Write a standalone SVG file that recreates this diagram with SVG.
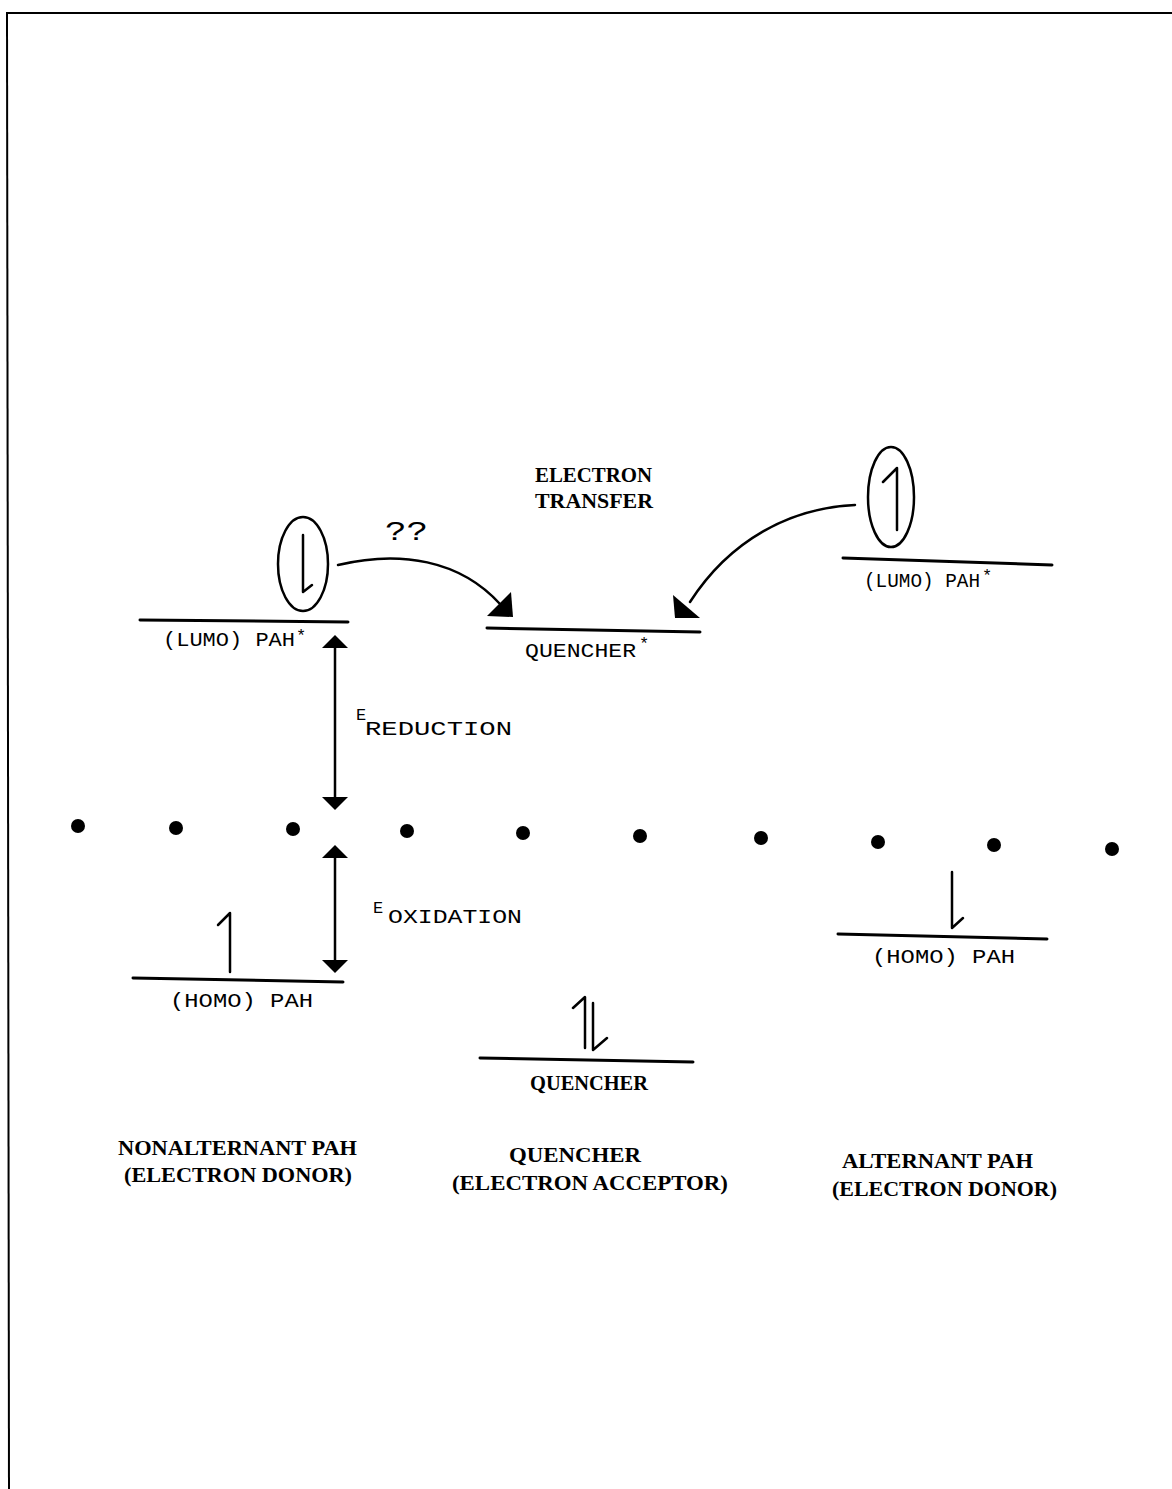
<svg xmlns="http://www.w3.org/2000/svg" width="1172" height="1489" viewBox="0 0 1172 1489">
<style>
.lvl{stroke:#000;stroke-width:3;fill:none;stroke-linecap:round}
.ln{stroke:#000;stroke-width:2.5;fill:none;stroke-linecap:round;stroke-linejoin:round}
.spin{stroke:#000;stroke-width:2.5;fill:none;stroke-linecap:round;stroke-linejoin:round}
.t{font-family:"Liberation Mono","DejaVu Sans Mono",monospace;font-size:20px;fill:#000}
.b{font-family:"Liberation Serif","DejaVu Serif",serif;font-size:21px;font-weight:bold;fill:#000}
.sup{font-family:"Liberation Mono","DejaVu Sans Mono",monospace;font-size:17px;fill:#000}
.dot{fill:#000}
</style>
<rect width="1172" height="1489" fill="#fff"/>
<g id="frame">
<line x1="6" y1="13" x2="1172" y2="13" stroke="#000" stroke-width="2"/>
<line x1="7" y1="13" x2="9" y2="1489" stroke="#000" stroke-width="2"/>
</g>
<g id="dots">
<circle class="dot" cx="78" cy="826" r="7"/>
<circle class="dot" cx="176" cy="828" r="7"/>
<circle class="dot" cx="293" cy="829" r="7"/>
<circle class="dot" cx="407" cy="831" r="7"/>
<circle class="dot" cx="523" cy="833" r="7"/>
<circle class="dot" cx="640" cy="836" r="7"/>
<circle class="dot" cx="761" cy="838" r="7"/>
<circle class="dot" cx="878" cy="842" r="7"/>
<circle class="dot" cx="994" cy="845" r="7"/>
<circle class="dot" cx="1112" cy="849" r="7"/>
</g>
<g id="left-lumo">
<line class="lvl" x1="140" y1="620" x2="348" y2="622"/>
<ellipse cx="303" cy="564" rx="25" ry="47" fill="none" stroke="#000" stroke-width="2.5"/>
<polyline class="spin" points="303,535 303,592 312,585"/>
<text class="t" x="163" y="646" textLength="132" lengthAdjust="spacingAndGlyphs">(LUMO) PAH</text>
<text class="sup" x="296" y="641">*</text>
</g>
<g id="quencher-excited">
<line class="lvl" x1="487" y1="628" x2="700" y2="632"/>
<text class="t" x="525" y="657" textLength="111" lengthAdjust="spacingAndGlyphs">QUENCHER</text>
<text class="sup" x="639" y="649">*</text>
</g>
<g id="right-lumo">
<line class="lvl" x1="843" y1="558" x2="1052" y2="565"/>
<ellipse cx="891" cy="497" rx="23" ry="50" fill="none" stroke="#000" stroke-width="2.5"/>
<polyline class="spin" points="883,482 897,468 897,530"/>
<text class="t" x="864" y="587" textLength="116" lengthAdjust="spacingAndGlyphs">(LUMO) PAH</text>
<text class="sup" x="982" y="581">*</text>
</g>
<g id="electron-transfer">
<text class="b" x="535" y="482" textLength="117" lengthAdjust="spacingAndGlyphs">ELECTRON</text>
<text class="b" x="535" y="508" textLength="118" lengthAdjust="spacingAndGlyphs">TRANSFER</text>
</g>
<g id="left-homo">
<line class="lvl" x1="133" y1="978" x2="343" y2="982"/>
<polyline class="spin" points="218,925 230,913 230,972"/>
<text class="t" x="170" y="1007" textLength="143" lengthAdjust="spacingAndGlyphs">(HOMO) PAH</text>
</g>
<g id="quencher-ground">
<line class="lvl" x1="480" y1="1058" x2="693" y2="1062"/>
<polyline class="spin" points="573,1008 585,997 585,1048"/>
<polyline class="spin" points="593,1003 593,1050 607,1038"/>
<text class="b" x="530" y="1090" textLength="118" lengthAdjust="spacingAndGlyphs">QUENCHER</text>
</g>
<g id="right-homo">
<line class="lvl" x1="838" y1="934" x2="1047" y2="939"/>
<polyline class="spin" points="952,872 952,928 963,918"/>
<text class="t" x="872" y="963" textLength="143" lengthAdjust="spacingAndGlyphs">(HOMO) PAH</text>
</g>
<g id="energy-labels">
<text class="sup" x="356" y="720">E</text>
<text class="t" x="365" y="735" textLength="147" lengthAdjust="spacingAndGlyphs">REDUCTION</text>
<text class="sup" x="373" y="913">E</text>
<text class="t" x="388" y="923" textLength="134" lengthAdjust="spacingAndGlyphs">OXIDATION</text>
<text class="t" x="385" y="540" style="font-size:28px" textLength="43" lengthAdjust="spacingAndGlyphs">??</text>
</g>
<g id="captions">
<text class="b" x="118" y="1155" textLength="239" lengthAdjust="spacingAndGlyphs">NONALTERNANT PAH</text>
<text class="b" x="124" y="1182" textLength="228" lengthAdjust="spacingAndGlyphs">(ELECTRON DONOR)</text>
<text class="b" x="509" y="1162" textLength="132" lengthAdjust="spacingAndGlyphs">QUENCHER</text>
<text class="b" x="452" y="1190" textLength="276" lengthAdjust="spacingAndGlyphs">(ELECTRON ACCEPTOR)</text>
<text class="b" x="842" y="1168" textLength="191" lengthAdjust="spacingAndGlyphs">ALTERNANT PAH</text>
<text class="b" x="832" y="1196" textLength="225" lengthAdjust="spacingAndGlyphs">(ELECTRON DONOR)</text>
</g>
<g id="connectors">
<path class="ln" d="M338,565 C400,550 460,560 500,604"/>
<polygon points="487,616 511,592 513,617" fill="#000"/>
<path class="ln" d="M855,505 C790,508 730,540 690,602"/>
<polygon points="673,595 675,618 700,618" fill="#000"/>
<line class="ln" x1="335" y1="645" x2="335" y2="800"/>
<polygon points="335,635 322,648 348,648" fill="#000"/>
<polygon points="335,810 322,797 348,797" fill="#000"/>
<line class="ln" x1="335" y1="855" x2="335" y2="963"/>
<polygon points="335,845 322,858 348,858" fill="#000"/>
<polygon points="335,973 322,960 348,960" fill="#000"/>
</g>
</svg>
